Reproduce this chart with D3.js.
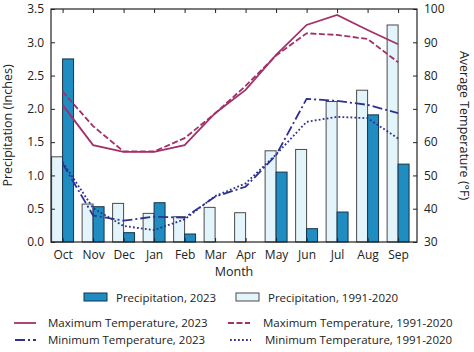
<!DOCTYPE html>
<html><head><meta charset="utf-8">
<script src="https://cdn.jsdelivr.net/npm/d3@7"></script>
<style>
body{margin:0;background:#fff;}
svg text{font-family:"Open Sans","Noto Sans",sans-serif;fill:#222;}
</style></head>
<body><svg id="c" width="474" height="352"></svg>
<script>
const months = ["Oct","Nov","Dec","Jan","Feb","Mar","Apr","May","Jun","Jul","Aug","Sep"];
const precip2023 = [2.75,0.53,0.14,0.59,0.12,0,0,1.05,0.20,0.45,1.91,1.17];
const precipNormal = [1.28,0.57,0.58,0.43,0.38,0.52,0.44,1.37,1.39,2.11,2.28,3.26];
const maxT2023 = [71.2,59.1,57.1,57.1,59.1,68.7,75.7,86.2,95.2,98.2,93.7,89.4];
const maxTNormal = [75.2,64.8,57.2,57.2,61.2,68.6,76.9,86.0,92.7,92.2,91.0,84.0];
const minT2023 = [53.6,38.0,36.4,37.6,37.3,43.6,46.6,56.1,73.0,72.4,71.2,68.7];
const minTNormal = [54.0,40.2,34.8,33.6,36.8,43.8,47.6,56.3,66.1,67.6,67.2,61.1];
const precipTicks = [0,0.5,1.0,1.5,2.0,2.5,3.0,3.5];
const tempTicks = [30,40,50,60,70,80,90,100];

const svg = d3.select("#c");
const L=51,R=417,T=9,B=242;
const x = d3.scaleLinear().domain([-0.38,11.62]).range([L,R]);
const yP = d3.scaleLinear().domain([0,3.5]).range([B,T]);
const yT = d3.scaleLinear().domain([30,100]).range([B,T]);
const bw = 0.36;
const cMax="#a3306b", cMin="#2e3192";

// bars: 1991-2020 to the left of each tick, 2023 to the right
svg.append("g").selectAll("rect").data(precipNormal).join("rect")
  .attr("x",(d,i)=>x(i-bw)).attr("width",x(bw)-x(0))
  .attr("y",d=>yP(d)).attr("height",d=>B-yP(d))
  .attr("fill","#e3f4fb").attr("stroke","#4a4a4a").attr("stroke-width",1);
svg.append("g").selectAll("rect")
  .data(precip2023.map((v,i)=>({v,i})).filter(d=>d.v>0)).join("rect")
  .attr("x",d=>x(d.i)).attr("width",x(bw)-x(0))
  .attr("y",d=>yP(d.v)).attr("height",d=>B-yP(d.v))
  .attr("fill","#1f8dc1").attr("stroke","#16334a").attr("stroke-width",1);

// lines
const line = d3.line().x((d,i)=>x(i)).y(d=>yT(d));
const series = [
  {d:maxT2023,c:cMax,dash:null},
  {d:maxTNormal,c:cMax,dash:"6,2.5"},
  {d:minT2023,c:cMin,dash:"10,3,2,3"},
  {d:minTNormal,c:cMin,dash:"1.8,2.2"}
];
series.forEach(s=>{
  svg.append("path").attr("d",line(s.d)).attr("fill","none")
    .attr("stroke",s.c).attr("stroke-width",1.8)
    .attr("stroke-dasharray",s.dash);
});

// frame
svg.append("rect").attr("x",L).attr("y",T).attr("width",R-L).attr("height",B-T)
  .attr("fill","none").attr("stroke","#222").attr("stroke-width",1.2);

// axes
const fs = "12px";
const axL = svg.append("g").attr("transform",`translate(${L},0)`)
  .call(d3.axisLeft(yP).tickValues(precipTicks).tickFormat(d3.format(".1f")).tickSizeInner(-4).tickSizeOuter(0).tickPadding(7));
const axR = svg.append("g").attr("transform",`translate(${R},0)`)
  .call(d3.axisRight(yT).tickValues(tempTicks).tickSizeInner(-4).tickSizeOuter(0).tickPadding(7));
const axB = svg.append("g").attr("transform",`translate(0,${B})`)
  .call(d3.axisBottom(x).tickValues(d3.range(12)).tickFormat(i=>months[i]).tickSizeInner(-4).tickSizeOuter(0).tickPadding(8));
const axTp = svg.append("g").attr("transform",`translate(0,${T})`)
  .call(d3.axisTop(x).tickValues(d3.range(12)).tickFormat("").tickSizeInner(-4).tickSizeOuter(0));
[axL,axR,axB,axTp].forEach(a=>{
  a.select(".domain").remove();
  a.selectAll("line").attr("stroke","#222");
  a.selectAll("text").attr("font-size",fs).attr("fill","#222")
   .style("font-family",'"Open Sans","Noto Sans",sans-serif');
});

// axis titles
svg.append("text").attr("transform","translate(12,125.5) rotate(-90)")
  .attr("text-anchor","middle").attr("font-size","12.5px").text("Precipitation (Inches)");
svg.append("text").attr("transform","translate(460,125.5) rotate(90)")
  .attr("text-anchor","middle").attr("font-size","12.5px").text("Average Temperature (°F)");
svg.append("text").attr("x",234).attr("y",276)
  .attr("text-anchor","middle").attr("font-size","12.5px").text("Month");

// legend
const lg = svg.append("g").attr("font-size","11.5px");
lg.append("rect").attr("x",84).attr("y",293).attr("width",23).attr("height",8)
  .attr("fill","#1f8dc1").attr("stroke","#16334a");
lg.append("text").attr("x",116).attr("y",301.5).text("Precipitation, 2023");
lg.append("rect").attr("x",236).attr("y",293).attr("width",23).attr("height",8)
  .attr("fill","#e3f4fb").attr("stroke","#4a4a4a");
lg.append("text").attr("x",268).attr("y",301.5).text("Precipitation, 1991-2020");
const legLines = [
  {x1:14,x2:36,y:323,s:series[0],tx:48,t:"Maximum Temperature, 2023"},
  {x1:228,x2:250,y:323,s:series[1],tx:263,t:"Maximum Temperature, 1991-2020"},
  {x1:15,x2:36,y:340,s:series[2],tx:48,t:"Minimum Temperature, 2023"},
  {x1:230,x2:251,y:340,s:series[3],tx:265,t:"Minimum Temperature, 1991-2020"}
];
legLines.forEach(l=>{
  lg.append("line").attr("x1",l.x1).attr("x2",l.x2).attr("y1",l.y).attr("y2",l.y)
    .attr("stroke",l.s.c).attr("stroke-width",1.8).attr("stroke-dasharray",l.s.dash);
  lg.append("text").attr("x",l.tx).attr("y",l.y+4).text(l.t);
});
</script></body></html>
